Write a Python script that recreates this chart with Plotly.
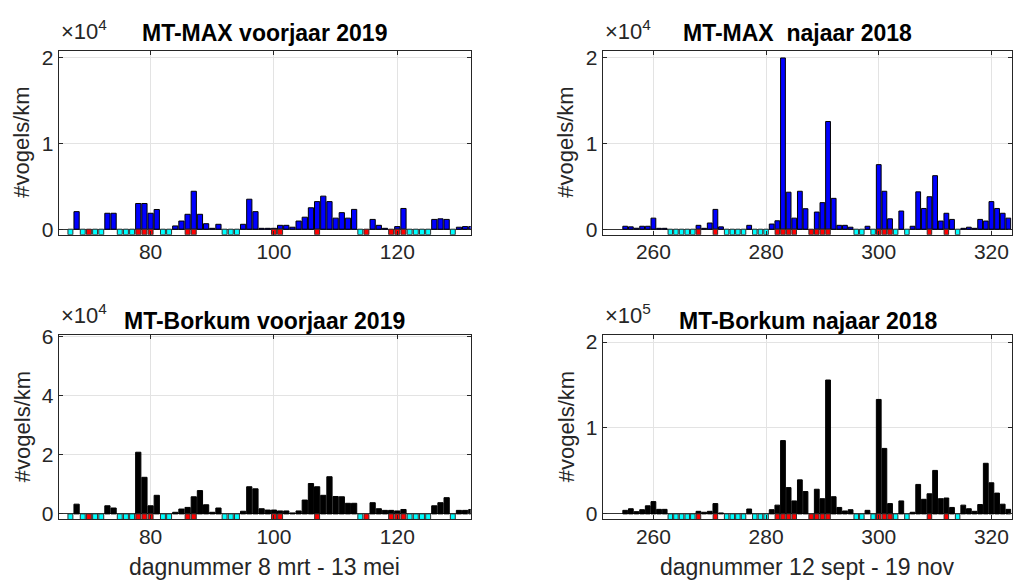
import plotly.graph_objects as go

W, H = 1013, 588

# ---------------- data ----------------
# spring (voorjaar 2019), day numbers
max_spring_days = [68, 73, 74, 78, 79, 80, 81, 84, 85, 86, 87, 88, 89, 90, 91,
                   95, 96, 97, 98, 99, 100, 101, 102, 103, 104, 105, 106, 107, 108,
                   109, 110, 111, 112, 113, 116, 117, 118, 120, 121, 126, 127, 128,
                   130, 131, 132]
max_spring_vals = [2050, 1860, 1860, 3000, 3000, 1860, 2300, 380, 950, 1740, 4430,
                   1740, 640, 100, 570, 570, 3500, 2050, 100, 100, 100, 450, 450,
                   230, 950, 1400, 2500, 3220, 3860, 3220, 1290, 1930, 1290, 2310,
                   1140, 450, 100, 300, 2420, 1140, 1210, 1140, 230, 300, 300]

bork_spring_days = [68, 73, 74, 78, 79, 80, 81, 84, 85, 86, 87, 88, 89, 90, 91,
                    95, 96, 97, 98, 99, 100, 101, 102, 103, 104, 105, 106, 107, 108,
                    109, 110, 111, 112, 113, 116, 117, 118, 119, 120, 121, 126, 127,
                    128, 130, 131, 132]
bork_spring_vals = [3300, 2750, 2000, 20900, 12400, 2750, 6300, 550, 1650, 2200,
                    5800, 7900, 3100, 550, 2000, 900, 9200, 8500, 1750, 1300, 1300,
                    1000, 1000, 330, 1000, 4700, 10300, 9200, 6300, 12600, 5900,
                    5800, 3600, 3600, 3800, 1750, 1200, 1200, 1000, 1500, 2750,
                    3800, 5500, 1200, 1200, 1500]

# autumn (najaar 2018)
autumn_days = [255, 256, 257, 258, 259, 260, 261, 262, 268, 269, 270, 271, 272,
               277, 281, 282, 283, 284, 285, 286, 287, 289, 290, 291, 292, 293,
               294, 295, 298, 300, 301, 302, 304, 306, 307, 308, 309, 310, 311,
               312, 313, 315, 316, 317, 318, 319, 320, 321, 322, 323]
max_autumn_vals = [340, 270, 110, 340, 340, 1290, 100, 100, 450, 100, 720, 2310,
                   270, 450, 600, 980, 20000, 4320, 1290, 4430, 2390, 2000, 3100,
                   12580, 3600, 450, 450, 230, 340, 7540, 4430, 1210, 2120, 340,
                   4360, 2420, 3790, 6250, 950, 1860, 1140, 100, 230, 100, 1140,
                   950, 3220, 2420, 1860, 1290]
bork_autumn_vals = [4150, 6000, 2600, 4900, 9400, 14300, 5300, 5300, 3000, 1900,
                    3000, 12000, 1100, 5700, 4900, 10200, 85300, 30600, 15100,
                    39600, 26000, 28700, 17700, 155800, 20000, 7500, 3400, 4900,
                    4150, 133200, 76200, 12000, 15100, 1900, 34300, 17000, 23400,
                    50600, 17700, 18500, 7500, 10200, 6000, 3000, 10900, 58900,
                    36200, 24200, 11300, 5300]

# day markers in the strip below zero
spring_cyan = [67, 69, 71, 72, 75, 76, 77, 82, 83, 92, 93, 94, 114, 122, 123, 124, 125, 129]
spring_red = [70, 78, 79, 80, 86, 87, 100, 101, 107, 115, 119, 120, 121]
autumn_cyan = [263, 264, 265, 266, 267, 273, 274, 275, 276, 278, 279, 280, 296, 297,
               299, 303, 305, 314]
autumn_red = [268, 271, 282, 283, 284, 285, 288, 289, 290, 291, 300, 301, 302, 309, 312]

titles = ["MT-MAX voorjaar 2019", "MT-MAX  najaar 2018",
          "MT-Borkum voorjaar 2019", "MT-Borkum najaar 2018"]
xlabels = ["dagnummer 8 mrt - 13 mei", "dagnummer 12 sept - 19 nov"]
ylabel = "#vogels/km"

# y-axis settings per panel
y_max = [20864, 20864, 60660, 208300]
y_ticks = [[0, 10000, 20000], [0, 10000, 20000], [0, 20000, 40000, 60000],
           [0, 100000, 200000]]
y_ticktext = [["0", "1", "2"], ["0", "1", "2"], ["0", "2", "4", "6"], ["0", "1", "2"]]
exponents = ["4", "4", "4", "5"]
x_ranges = [[65.1, 131.9], [251.0, 323.6], [65.1, 131.9], [251.0, 323.6]]
x_ticks = [[80, 100, 120], [260, 280, 300, 320], [80, 100, 120], [260, 280, 300, 320]]

# ---------------- layout geometry (pixels) ----------------
col_x = [(58.7, 470.7), (602.7, 1011.7)]
row_y = [(41.7, 231.0), (334.0, 523.7)]
NEG = 0.031  # fraction of ymax shown below zero

FONT = "Liberation Sans, Arial, sans-serif"
TICKCOL = "#262626"

fig = go.Figure()

panel_data = [
    (max_spring_days, max_spring_vals, "#0000FF", spring_cyan, spring_red),
    (autumn_days, max_autumn_vals, "#0000FF", autumn_cyan, autumn_red),
    (bork_spring_days, bork_spring_vals, "#000000", spring_cyan, spring_red),
    (autumn_days, bork_autumn_vals, "#000000", autumn_cyan, autumn_red),
]

annotations = []
for i, (days, vals, col, cyan_d, red_d) in enumerate(panel_data):
    r, c = divmod(i, 2)
    n = "" if i == 0 else str(i + 1)
    xa, ya = "x" + n, "y" + n
    ymin = -NEG * y_max[i]
    fig.add_trace(go.Bar(x=days, y=vals, width=0.85, xaxis=xa, yaxis=ya,
                         marker=dict(color=col, line=dict(color="black", width=1)),
                         showlegend=False))
    fig.add_trace(go.Bar(x=cyan_d, y=[ymin] * len(cyan_d), width=0.8, xaxis=xa, yaxis=ya,
                         marker=dict(color="#00FFFF", line=dict(color="#333333", width=1)),
                         showlegend=False))
    fig.add_trace(go.Bar(x=red_d, y=[ymin] * len(red_d), width=0.8, xaxis=xa, yaxis=ya,
                         marker=dict(color="#FF0000", line=dict(color="#333333", width=1)),
                         showlegend=False))
    x0, x1 = col_x[c]
    y0, y1 = row_y[r]
    common = dict(showline=True, linecolor=TICKCOL, linewidth=1, mirror="ticks",
                  ticks="inside", ticklen=4, tickcolor=TICKCOL, showgrid=True,
                  gridcolor="#E3E3E3", gridwidth=1,
                  tickfont=dict(family=FONT, size=21, color=TICKCOL))
    fig.update_layout(**{
        ("xaxis" + n): dict(domain=[x0 / W, x1 / W], range=x_ranges[i],
                            tickvals=x_ticks[i], anchor=ya, zeroline=False,
                            ticklabelstandoff=-2, **common),
        ("yaxis" + n): dict(domain=[1 - y1 / H, 1 - y0 / H], range=[ymin, y_max[i]],
                            tickvals=y_ticks[i], ticktext=y_ticktext[i], anchor=xa,
                            zeroline=True, zerolinecolor="#333333", zerolinewidth=1,
                            ticksuffix=" ", **common),
    })
    # title
    annotations.append(dict(text="<b>" + titles[i].replace("  ", "&nbsp; ") + "</b>",
                            x=[[264.2, 797.0], [264.2, 808.0]][r][c] / W,
                            y=1 - [23.7, 319.7][r] / H,
                            xref="paper", yref="paper", xanchor="center", yanchor="middle",
                            showarrow=False,
                            font=dict(family=FONT, size=23, color="black")))
    # exponent
    annotations.append(dict(text="×10<sup>" + exponents[i] + "</sup>",
                            x=(x0 + 0.5) / W, y=1 - [36.5, 328.8][r] / H,
                            xref="paper", yref="paper", xanchor="left", yanchor="bottom",
                            showarrow=False,
                            font=dict(family=FONT, size=22, color=TICKCOL)))
    # y label
    annotations.append(dict(text=ylabel, textangle=-90,
                            x=(x0 - 36.7) / W, y=1 - (y0 + y1) / 2 / H,
                            xref="paper", yref="paper", xanchor="center", yanchor="middle",
                            showarrow=False,
                            font=dict(family=FONT, size=22, color=TICKCOL)))

for c in range(2):
    annotations.append(dict(text=xlabels[c], x=(col_x[c][0] + col_x[c][1]) / 2 / W,
                            y=1 - 573 / H, xref="paper", yref="paper",
                            xanchor="center", yanchor="middle", showarrow=False,
                            font=dict(family=FONT, size=23, color=TICKCOL)))

fig.update_layout(width=W, height=H, margin=dict(l=0, r=0, t=0, b=0),
                  paper_bgcolor="white", plot_bgcolor="white",
                  barmode="overlay", annotations=annotations)

fig.write_html("out.html",
               post_script="document.body.style.margin='0px';"
                           "document.body.style.overflow='hidden';")
